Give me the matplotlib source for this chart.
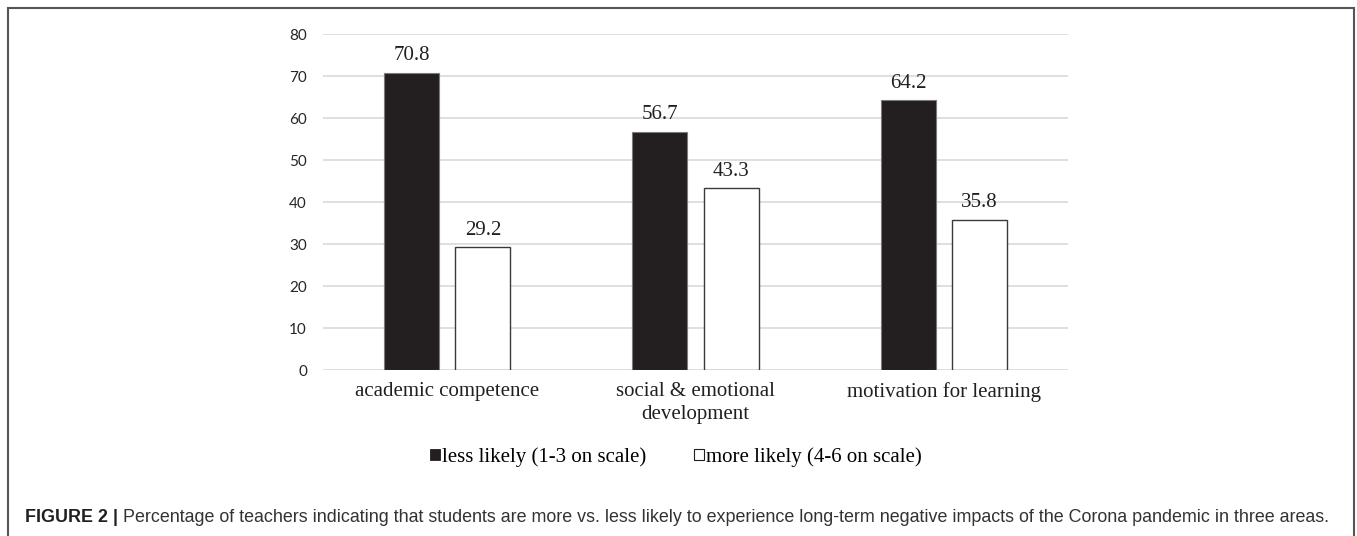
import matplotlib.pyplot as plt
from matplotlib.patches import Patch, Rectangle
from matplotlib import font_manager
import numpy as np

# data
categories = ['academic competence', 'social & emotional\ndevelopment', 'motivation for learning']
less_likely = [70.8, 56.7, 64.2]
more_likely = [29.2, 43.3, 35.8]
series_names = ['less likely (1-3 on scale)', 'more likely (4-6 on scale)']
y_ticks = [0, 10, 20, 30, 40, 50, 60, 70, 80]

W, H = 1357, 536
fig = plt.figure(figsize=(W / 100, H / 100), dpi=100)

serif = 'Liberation Serif'
tick_font = 'Lato'
fs = 15
available = {f.name for f in font_manager.fontManager.ttflist}
cap_font = 'Liberation Sans Narrow' if 'Liberation Sans Narrow' in available else 'Liberation Sans'

ax = fig.add_axes([323 / W, 1 - 370 / H, (1068 - 323) / W, (370 - 34) / H])

x = np.arange(len(categories))
width = 0.222
off = 0.144
b1 = ax.bar(x - off, less_likely, width, color='#231f20', edgecolor='#7a7a7a', linewidth=0.8, zorder=3)
b2 = ax.bar(x + off, more_likely, width, color='white', edgecolor='#3a3a3a', linewidth=1.0, zorder=3)

for bars, vals in [(b1, less_likely), (b2, more_likely)]:
    for rect, v in zip(bars, vals):
        ax.annotate(f'{v:.1f}', (rect.get_x() + rect.get_width() / 2, v),
                    xytext=(0, 5.5), textcoords='offset points', ha='center', va='bottom',
                    fontsize=fs, family=serif, color='#231f20')

ax.set_xlim(-0.5, 2.5)
ax.set_ylim(0, 80)
ax.set_yticks(y_ticks)
ax.set_yticklabels([str(t) for t in y_ticks], fontsize=11, family=tick_font, color='#262626')
ax.set_xticks(x)
ax.set_xticklabels(categories, fontsize=fs, family=serif, color='#231f20', linespacing=1.28)
ax.tick_params(axis='both', length=0)
ax.tick_params(axis='y', pad=11.5)
ax.tick_params(axis='x', pad=8.5)
ax.grid(axis='y', color='#d9d9d9', linewidth=1.2, zorder=0)
for s in ax.spines.values():
    s.set_visible(False)

handles = [Patch(facecolor='#231f20', edgecolor='#231f20', linewidth=0.6),
           Patch(facecolor='white', edgecolor='#231f20', linewidth=0.8)]
fig.legend(handles, series_names, loc='center', bbox_to_anchor=(676 / W, 1 - 457 / H),
           ncol=2, frameon=False, prop={'family': serif, 'size': fs},
           handlelength=0.46, handleheight=0.46, handletextpad=0.12, columnspacing=2.3)

# outer frame
fig.add_artist(Rectangle((8 / W, -0.02), (1354 - 8) / W, 1.02 - 8 / H,
                         transform=fig.transFigure, fill=False, edgecolor='#555555', linewidth=1.5))

# caption
cap1 = fig.text(25 / W, 1 - 517 / H, 'FIGURE 2 |', family=cap_font, weight='bold',
                fontsize=13, va='center', color='#231f20')
cap2_text = (' Percentage of teachers indicating that students are more vs. less likely to experience '
             'long-term negative impacts of the Corona pandemic in three areas.')
fig.canvas.draw()
r = fig.canvas.get_renderer()
bb1 = cap1.get_window_extent(r)
cap2 = fig.text(bb1.x1 / W, 1 - 517 / H, cap2_text, family=cap_font, fontsize=13,
                va='center', color='#333333')
bb2 = cap2.get_window_extent(r)
scale = (1328 - bb1.x1) / bb2.width
cap2.set_fontsize(13 * scale)
cap1.set_fontsize(13 * scale)

fig.savefig('out.png', dpi=100)
